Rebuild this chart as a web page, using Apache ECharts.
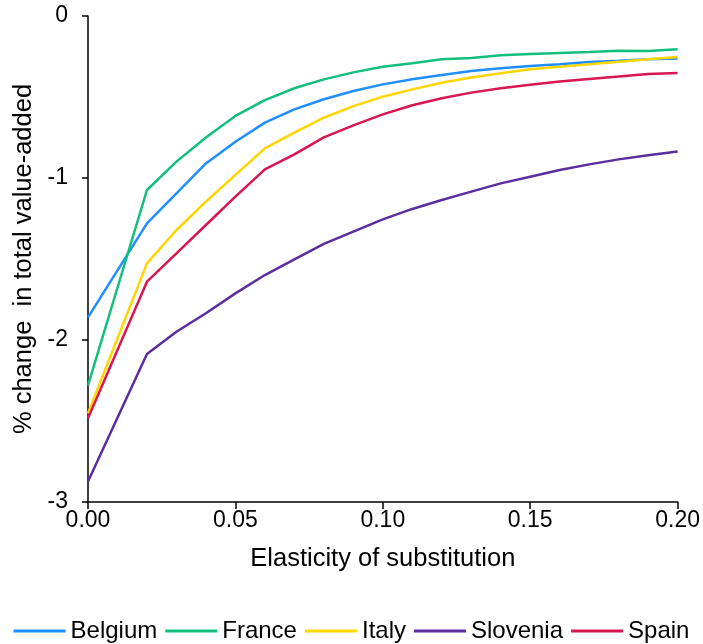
<!DOCTYPE html>
<html>
<head>
<meta charset="utf-8">
<title>Value-added</title>
<script src="https://cdn.jsdelivr.net/npm/echarts@6/dist/echarts.min.js"></script>
</head>
<body style="margin:0">
	<div id="main" style="width: 703px; height: 644px;"></div>
	<script type="text/javascript">
		// elasticity values (x)
		var elasticity = [0, 0.02, 0.03, 0.04, 0.05, 0.06, 0.07, 0.08, 0.09, 0.10, 0.11,
		                  0.12, 0.13, 0.14, 0.15, 0.16, 0.17, 0.18, 0.19, 0.20];
		var belgium  = [-1.86, -1.28, -1.095, -0.91, -0.776, -0.658, -0.576, -0.514, -0.463, -0.422, -0.391,
		                -0.364, -0.340, -0.323, -0.309, -0.298, -0.284, -0.276, -0.267, -0.263];
		var france   = [-2.28, -1.074, -0.899, -0.75, -0.617, -0.519, -0.446, -0.391, -0.348, -0.313, -0.292,
		                -0.267, -0.259, -0.243, -0.235, -0.228, -0.222, -0.214, -0.216, -0.206];
		var italy    = [-2.453, -1.527, -1.321, -1.146, -0.981, -0.817, -0.720, -0.628, -0.556, -0.498, -0.453,
		                -0.412, -0.379, -0.354, -0.329, -0.313, -0.298, -0.282, -0.267, -0.253];
		var slovenia = [-2.874, -2.086, -1.949, -1.835, -1.712, -1.599, -1.502, -1.407, -1.331, -1.255, -1.191,
		                -1.136, -1.084, -1.033, -0.992, -0.951, -0.916, -0.885, -0.860, -0.837];
		var spain    = [-2.483, -1.640, -1.465, -1.290, -1.115, -0.947, -0.854, -0.749, -0.675, -0.607, -0.551,
		                -0.508, -0.473, -0.446, -0.424, -0.405, -0.389, -0.374, -0.358, -0.352];

		var names = ['Belgium', 'France', 'Italy', 'Slovenia', 'Spain'];
		var values = [belgium, france, italy, slovenia, spain];
		var colors = ['#1f8fff', '#12bf7c', '#ffd500', '#5b2d9e', '#d81650'];

		var myChart = echarts.init(document.getElementById('main'));

		var series = [];
		for (var i = 0; i < names.length; i++) {
			var pts = [];
			for (var j = 0; j < elasticity.length; j++) {
				pts.push([elasticity[j], values[i][j]]);
			}
			series.push({
				name: names[i],
				type: 'line',
				data: pts,
				symbol: 'none',
				lineStyle: { width: 2.5, color: colors[i] },
				itemStyle: { color: colors[i] },
				z: 2
			});
		}

		var font = 'Liberation Sans, Arial, sans-serif';
		option = {
			animation: false,
			textStyle: { fontFamily: font },
			grid: { left: 88, right: 25, top: 16, bottom: 142 },
			legend: {
				top: 614,
				left: 'center',
				itemWidth: 52,
				itemHeight: 3,
				itemGap: 8,
				icon: 'rect',
				textStyle: { fontSize: 24, color: '#000', fontFamily: font },
				data: names
			},
			xAxis: {
				type: 'value',
				min: 0,
				max: 0.2,
				interval: 0.05,
				name: 'Elasticity of substitution',
				nameLocation: 'middle',
				nameGap: 44,
				nameTextStyle: { fontSize: 25.5, color: '#000', fontFamily: font },
				axisLine: { onZero: false, lineStyle: { color: '#000', width: 1.5 } },
				axisTick: { show: true, length: 7, lineStyle: { color: '#000', width: 1.5 } },
				axisLabel: {
					fontSize: 23, color: '#000', margin: 7,
					formatter: function (v) { return v.toFixed(2); }
				},
				splitLine: { show: false }
			},
			yAxis: {
				type: 'value',
				min: -3,
				max: 0,
				interval: 1,
				name: '% change  in total value-added',
				nameLocation: 'middle',
				nameGap: 50,
				nameTextStyle: { fontSize: 25.5, color: '#000', fontFamily: font },
				axisLine: { show: true, lineStyle: { color: '#000', width: 1.5 } },
				axisTick: { show: true, length: 6, lineStyle: { color: '#000', width: 1.5 } },
				axisLabel: { fontSize: 23, color: '#000', margin: 20 },
				splitLine: { show: false }
			},
			series: series
		};
		myChart.setOption(option);
	</script>
</body>
</html>
